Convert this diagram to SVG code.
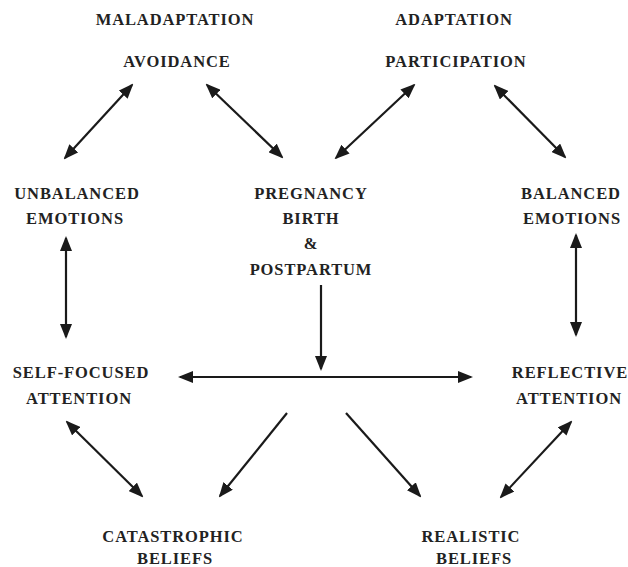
<svg xmlns="http://www.w3.org/2000/svg" width="628" height="567" viewBox="0 0 628 567">
<style>
text{font-family:"Liberation Serif","Times New Roman",serif;font-weight:bold;font-size:16.5px;letter-spacing:0.9px;fill:#222;text-anchor:middle}
.c line{stroke:#1a1a1a;stroke-width:2.2}
.d{marker-start:url(#ah);marker-end:url(#ah)}
.s{marker-end:url(#ah)}
</style>
<defs>
<marker id="ah" viewBox="0 0 15 12" refX="13" refY="6" markerWidth="15" markerHeight="12" markerUnits="userSpaceOnUse" orient="auto-start-reverse">
<path d="M0,0 L15,6 L0,12 z" fill="#1a1a1a"/>
</marker>
</defs>
<rect width="628" height="567" fill="#fff"/>
<g id="maladaptation"><text x="175" y="25">MALADAPTATION</text></g>
<g id="avoidance"><text x="177" y="67">AVOIDANCE</text></g>
<g id="adaptation"><text x="454" y="25">ADAPTATION</text></g>
<g id="participation"><text x="456" y="67">PARTICIPATION</text></g>
<g id="unbalanced"><text x="77" y="199">UNBALANCED</text><text x="75" y="224">EMOTIONS</text></g>
<g id="pregnancy"><text x="311" y="199">PREGNANCY</text><text x="311" y="224">BIRTH</text><text x="311" y="249">&amp;</text><text x="311" y="275">POSTPARTUM</text></g>
<g id="balanced"><text x="571" y="199">BALANCED</text><text x="572" y="224">EMOTIONS</text></g>
<g id="selffocused"><text x="81" y="378">SELF-FOCUSED</text><text x="79" y="404">ATTENTION</text></g>
<g id="reflective"><text x="570" y="378">REFLECTIVE</text><text x="569" y="404">ATTENTION</text></g>
<g id="catastrophic"><text x="173" y="542">CATASTROPHIC</text><text x="175" y="564">BELIEFS</text></g>
<g id="realistic"><text x="471" y="542">REALISTIC</text><text x="474" y="564">BELIEFS</text></g>
<g id="connectors" class="c">
<line class="d" x1="132" y1="85" x2="65" y2="158"/>
<line class="d" x1="207" y1="85" x2="282" y2="157"/>
<line class="d" x1="414" y1="85" x2="336" y2="158"/>
<line class="d" x1="495" y1="86" x2="565" y2="157"/>
<line class="d" x1="66" y1="238" x2="66" y2="337"/>
<line class="d" x1="576" y1="235" x2="576" y2="335"/>
<line class="s" x1="321" y1="285" x2="321" y2="369"/>
<line class="d" x1="180" y1="377" x2="471" y2="377"/>
<line class="d" x1="67" y1="422" x2="142" y2="496"/>
<line class="s" x1="287" y1="413" x2="220" y2="496"/>
<line class="s" x1="346" y1="413" x2="420" y2="496"/>
<line class="d" x1="571" y1="422" x2="501" y2="497"/>
</g>
</svg>
